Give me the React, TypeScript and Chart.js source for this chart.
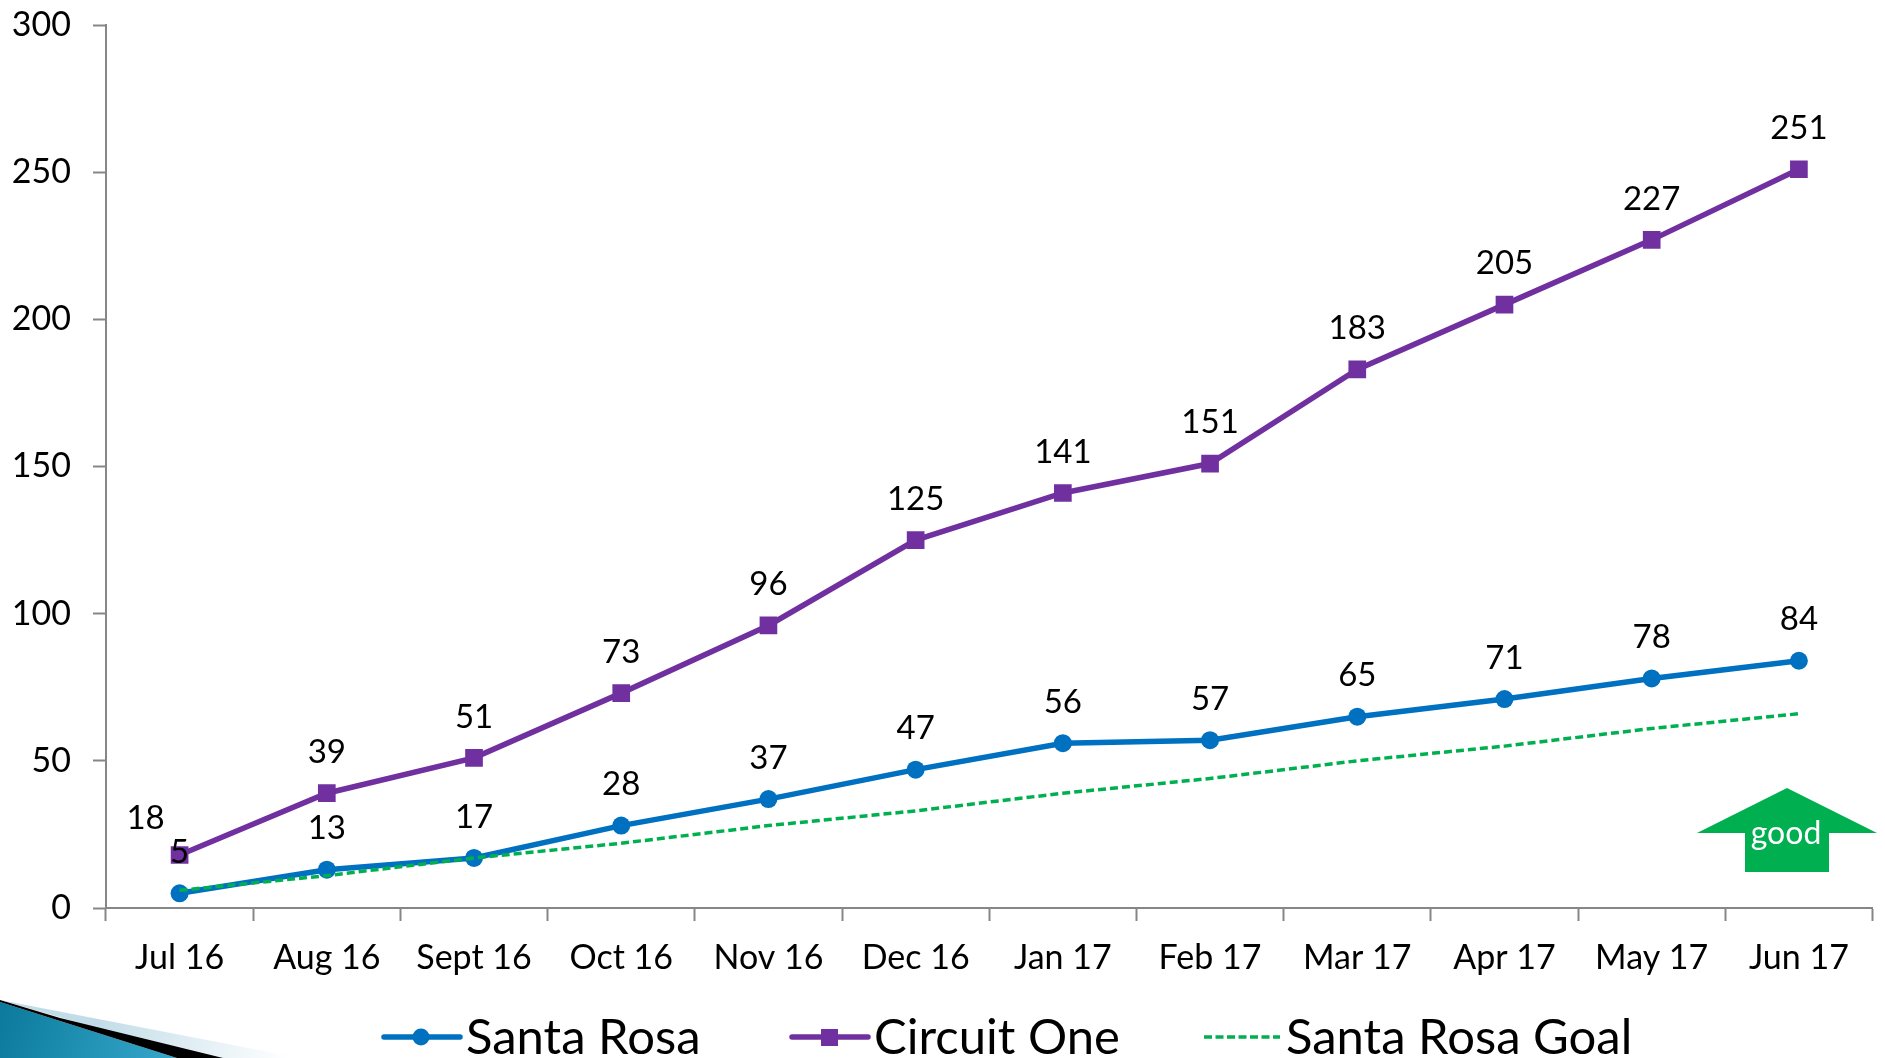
import React, { useEffect, useRef } from "react";
import { Chart, registerables } from "chart.js";

Chart.register(...registerables);

const categories = ["Jul 16", "Aug 16", "Sept 16", "Oct 16", "Nov 16", "Dec 16", "Jan 17", "Feb 17", "Mar 17", "Apr 17", "May 17", "Jun 17"];
const santaRosa = [5, 13, 17, 28, 37, 47, 56, 57, 65, 71, 78, 84];
const circuitOne = [18, 39, 51, 73, 96, 125, 141, 151, 183, 205, 227, 251];
const santaRosaGoal = [6, 11, 17, 22, 28, 33, 39, 44, 50, 55, 61, 66];
const yTicks = [0, 50, 100, 150, 200, 250, 300];

const FONT = "Lato, Carlito, sans-serif";

const decorPlugin = {
  id: "decor",
  beforeDraw(chart: any) {
    const c = chart.ctx;
    c.save();
    const pale = c.createLinearGradient(100, 1020, 290, 1058);
    pale.addColorStop(0, "#c3dde8");
    pale.addColorStop(1, "#ffffff");
    c.fillStyle = pale;
    c.beginPath(); c.moveTo(0, 1000); c.lineTo(300, 1058); c.lineTo(200, 1058); c.closePath(); c.fill();
    const teal = c.createLinearGradient(0, 1010, 170, 1058);
    teal.addColorStop(0, "#0b7a9c");
    teal.addColorStop(1, "#35a6ca");
    c.fillStyle = teal;
    c.beginPath(); c.moveTo(0, 1002); c.lineTo(177, 1058); c.lineTo(0, 1058); c.closePath(); c.fill();
    c.fillStyle = "#000000";
    c.beginPath(); c.moveTo(0, 1000); c.lineTo(60, 1018); c.lineTo(223, 1058); c.lineTo(177, 1058); c.lineTo(0, 1002); c.closePath(); c.fill();
    c.restore();
  },
};

const overlayPlugin = {
  id: "overlay",
  afterDraw(chart: any) {
    const c = chart.ctx;
    c.save();
    // value labels
    c.font = `33px ${FONT}`;
    c.fillStyle = "#000000";
    c.textAlign = "center";
    c.textBaseline = "middle";
    [1, 0].forEach((di) => {
      const meta = chart.getDatasetMeta(di);
      chart.data.datasets[di].data.forEach((v: number, i: number) => {
        const p = meta.data[i];
        const first = di === 1 && i === 0;
        c.fillText(String(v), p.x + (first ? -34 : 0), p.y - (first ? 37 : 41));
      });
    });

    // good arrow
    c.fillStyle = "#00B050";
    c.beginPath();
    c.moveTo(1787, 788); c.lineTo(1877, 833); c.lineTo(1829, 833); c.lineTo(1829, 872);
    c.lineTo(1745, 872); c.lineTo(1745, 833); c.lineTo(1697, 833); c.closePath(); c.fill();
    c.fillStyle = "#ffffff";
    c.font = `32px ${FONT}`;
    c.fillText("good", 1786, 834);

    // legend
    const legendY = 1037;
    const entries = [
      { di: 0, x: 382 },
      { di: 1, x: 790 },
      { di: 2, x: 1202 },
    ];
    entries.forEach(({ di, x }) => {
      const ds = chart.data.datasets[di];
      c.strokeStyle = ds.borderColor;
      c.lineWidth = di === 2 ? 3.5 : 5.5;
      c.lineCap = di === 2 ? "butt" : "round";
      c.setLineDash(di === 2 ? [8, 3.5] : []);
      c.beginPath(); c.moveTo(x + 2, legendY); c.lineTo(x + 78, legendY); c.stroke();
      c.setLineDash([]);
      c.fillStyle = ds.borderColor;
      if (ds.pointStyle === "circle") {
        c.beginPath(); c.arc(x + 39, legendY, 8.5, 0, Math.PI * 2); c.fill();
      } else if (ds.pointStyle === "rect") {
        c.fillRect(x + 31, legendY - 8, 17, 17);
      }
      c.fillStyle = "#000000";
      c.font = `49px ${FONT}`;
      c.textAlign = "left";
      c.fillText(ds.label, x + 84, legendY + 1);
    });
    c.restore();
  },
};

export default function App() {
  const ref = useRef<HTMLCanvasElement>(null);
  useEffect(() => {
    document.body.style.margin = "0";
    document.body.style.overflow = "hidden";
    document.body.style.background = "#ffffff";
    const chart = new Chart(ref.current as HTMLCanvasElement, {
      type: "line",
      data: {
        labels: categories,
        datasets: [
          { label: "Santa Rosa", data: santaRosa, borderColor: "#0070C0", backgroundColor: "#0070C0", borderWidth: 5.5, pointStyle: "circle", pointRadius: 9, pointBorderWidth: 0, tension: 0, order: 2 },
          { label: "Circuit One", data: circuitOne, borderColor: "#7030A0", backgroundColor: "#7030A0", borderWidth: 5.5, pointStyle: "rect", pointRadius: 12.5, pointBorderWidth: 0, tension: 0, order: 3 },
          { label: "Santa Rosa Goal", data: santaRosaGoal, borderColor: "#00B050", backgroundColor: "#00B050", borderWidth: 3.5, borderDash: [8, 4], pointRadius: 0, tension: 0, order: 1 },
        ],
      },
      options: {
        responsive: false,
        animation: false,
        layout: { padding: { top: 25, right: 7, left: 0, bottom: 0 } },
        plugins: { legend: { display: false }, tooltip: { enabled: false } },
        scales: {
          x: {
            type: "category",
            offset: true,
            grid: { display: true, offset: true, drawOnChartArea: false, tickLength: 13, tickColor: "#868686", tickWidth: 2 },
            border: { color: "#868686", width: 2 },
            ticks: { color: "#000000", font: { family: FONT, size: 34 }, padding: 17, maxRotation: 0, autoSkip: false },
            afterFit(s: any) { s.height = 150; s.paddingLeft = 0; s.paddingRight = 0; },
          },
          y: {
            min: 0,
            max: 300,
            afterBuildTicks(s: any) { s.ticks = yTicks.map((value) => ({ value })); },
            grid: { display: true, drawOnChartArea: false, tickLength: 13, tickColor: "#868686", tickWidth: 2 },
            border: { color: "#868686", width: 2 },
            ticks: { color: "#000000", font: { family: FONT, size: 34 }, padding: 22 },
            afterFit(s: any) { s.width = 106; s.paddingTop = 0; s.paddingBottom = 0; },
          },
        },
      },
      plugins: [decorPlugin, overlayPlugin],
    } as any);
    return () => chart.destroy();
  }, []);
  return <canvas ref={ref} width={1885} height={1058} style={{ position: "absolute", left: 0, top: 0, display: "block" }} />;
}
